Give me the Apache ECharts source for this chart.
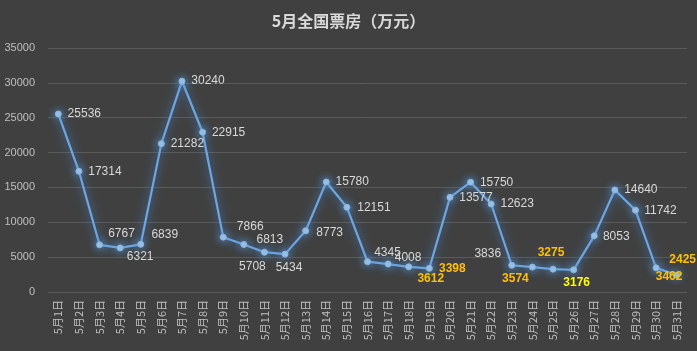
<!DOCTYPE html>
<html>
<head>
<meta charset="utf-8">
<script src="https://cdn.jsdelivr.net/npm/echarts@6/dist/echarts.min.js"></script>
<style>html,body{margin:0;padding:0;background:#404040;}#c{width:697px;height:351px;}</style>
</head>
<body>
<div id="c"></div>
<script>
var titleText = '5月全国票房（万元）';
var categories = ['5月1日','5月2日','5月3日','5月4日','5月5日','5月6日','5月7日','5月8日','5月9日','5月10日','5月11日','5月12日','5月13日','5月14日','5月15日','5月16日','5月17日','5月18日','5月19日','5月20日','5月21日','5月22日','5月23日','5月24日','5月25日','5月26日','5月27日','5月28日','5月29日','5月30日','5月31日'];
var boxOffice = [25536,17314,6767,6321,6839,21282,30240,22915,7866,6813,5708,5434,8773,15780,12151,4345,4008,3612,3398,13577,15750,12623,3836,3574,3275,3176,8053,14640,11742,3462,2425];
var yTicks = {min: 0, max: 35000, interval: 5000};

// label placement (offset of label centre from point) and colour per point
var labelOffsets = [[26,0],[26,0],[22,-11],[20,9],[24,-10],[26,0],[26,0],[26,0],[27,-10],[26,-5],[-12,14],[4,14],[24,2],[26,0],[27,0],[20,-9],[20,-6],[22,12],[23,0],[26,0],[26,0],[26,0],[-24,-12],[-17,12],[-2,-16],[3,13],[22,1],[26,0],[25,1],[13,9],[6,-15]];
var labelColors = [];
for (var i = 0; i < boxOffice.length; i++) labelColors.push('#d9d9d9');
[17,18,23,24,29,30].forEach(function(k){ labelColors[k] = '#ffc000'; });
labelColors[25] = '#ffff00';

var seriesData = boxOffice.map(function(v, i){
  return {
    value: v,
    label: {
      offset: labelOffsets[i],
      color: labelColors[i],
      fontWeight: labelColors[i] === '#d9d9d9' ? 'normal' : 'bold'
    }
  };
});

var chart = echarts.init(document.getElementById('c'));
chart.setOption({
  backgroundColor: '#404040',
  animation: false,
  textStyle: {fontFamily: '"Noto Sans CJK SC", "Noto Sans", sans-serif'},
  title: {
    text: titleText,
    left: 'center',
    top: 8,
    textStyle: {color: '#d9d9d9', fontSize: 16, fontWeight: 'bold', fontFamily: '"Noto Sans CJK SC", sans-serif'}
  },
  grid: {left: 48, right: 10, top: 48, bottom: 59},
  xAxis: {
    type: 'category',
    data: categories,
    boundaryGap: true,
    axisLine: {show: false},
    axisTick: {show: false},
    axisLabel: {rotate: 90, color: '#bfbfbf', fontSize: 11, margin: 8, interval: 0, fontFamily: '"Noto Sans CJK SC", sans-serif'}
  },
  yAxis: {
    type: 'value',
    min: yTicks.min,
    max: yTicks.max,
    interval: yTicks.interval,
    axisLine: {show: false},
    axisTick: {show: false},
    axisLabel: {color: '#bfbfbf', fontSize: 11, margin: 13, fontFamily: '"Liberation Sans", sans-serif',
      formatter: function(v){ return String(v); }},
    splitLine: {lineStyle: {color: '#5a5a5a', width: 1}}
  },
  series: [{
    type: 'line',
    data: seriesData,
    symbol: 'circle',
    symbolSize: 6,
    itemStyle: {color: '#9dc3e6', borderColor: '#8ab4e0', borderWidth: 1, shadowBlur: 8, shadowColor: 'rgba(91,155,213,1)'},
    lineStyle: {color: '#6fa6e0', width: 2.2, shadowBlur: 10, shadowColor: 'rgba(70,140,220,1)'},
    label: {
      show: true,
      position: 'inside',
      fontSize: 12,
      fontFamily: '"Liberation Sans", "DejaVu Sans", sans-serif',
      color: '#d9d9d9'
    }
  }]
});
</script>
</body>
</html>
